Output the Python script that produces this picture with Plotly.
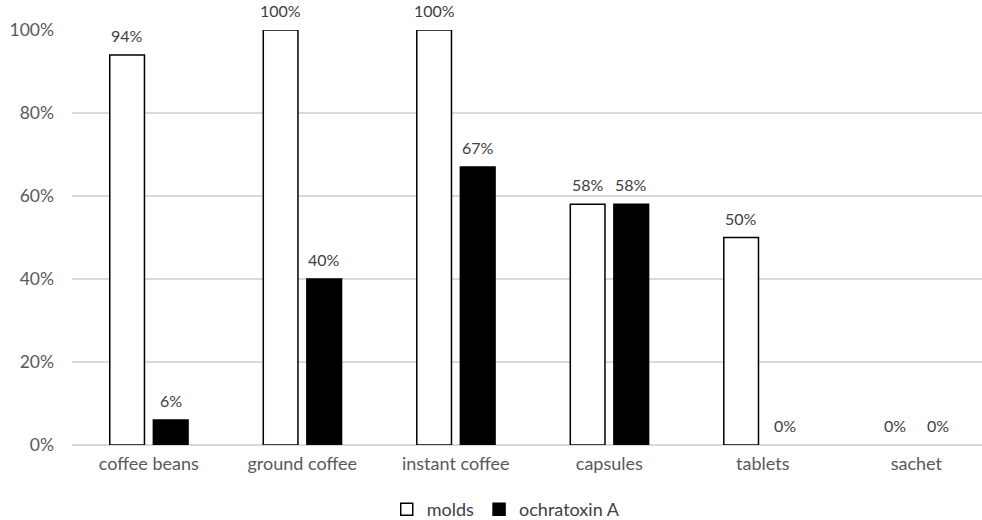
import plotly.graph_objects as go

# Share of samples positive for molds and for ochratoxin A, by coffee product
categories = ["coffee beans", "ground coffee", "instant coffee", "capsules", "tablets", "sachet"]
molds = [0.94, 1.00, 1.00, 0.58, 0.50, 0.00]
ochratoxin_a = [0.06, 0.40, 0.67, 0.58, 0.00, 0.00]
molds_labels = ["94%", "100%", "100%", "58%", "50%", "0%"]
ochratoxin_labels = ["6%", "40%", "67%", "58%", "0%", "0%"]
y_ticks = [0, 0.2, 0.4, 0.6, 0.8, 1.0]
y_tick_text = ["0%", "20%", "40%", "60%", "80%", "100%"]

FONT = "Lato, 'Open Sans', sans-serif"
BAR_W = 0.226
OFF_MOLDS = -0.254
OFF_OCHRA = 0.030


def outline_widths(values, w=1.5):
    # no outline on empty bars, so nothing is drawn along the baseline
    return [w if v > 0 else 0 for v in values]


fig = go.Figure()
fig.add_trace(go.Bar(
    name="molds", x=categories, y=molds,
    width=BAR_W, offset=OFF_MOLDS,
    marker=dict(color="white", line=dict(color="black", width=outline_widths(molds))),
))
fig.add_trace(go.Bar(
    name="ochratoxin A", x=categories, y=ochratoxin_a,
    width=BAR_W, offset=OFF_OCHRA,
    marker=dict(color="black", line=dict(color="black", width=outline_widths(ochratoxin_a))),
))

# value labels above each bar
annotations = []
for offset, values, labels in ((OFF_MOLDS, molds, molds_labels),
                               (OFF_OCHRA, ochratoxin_a, ochratoxin_labels)):
    for i, (v, t) in enumerate(zip(values, labels)):
        annotations.append(dict(x=i + offset + BAR_W / 2, y=v, xref="x", yref="y", text=t,
                                showarrow=False, yanchor="bottom", yshift=8,
                                font=dict(family=FONT, size=16, color="#404040")))

fig.update_layout(
    width=982, height=520,
    margin=dict(l=72, r=0, t=30, b=75),
    plot_bgcolor="white", paper_bgcolor="white",
    barmode="overlay",
    showlegend=True,
    legend=dict(orientation="h", xref="container", yref="container",
                x=0.515, y=0.02, xanchor="center", yanchor="middle",
                font=dict(family=FONT, size=18, color="#404040"),
                traceorder="normal"),
    annotations=annotations,
    xaxis=dict(type="category", range=[-0.5, 5.428], showgrid=False,
               showline=False, zeroline=False, ticks="",
               ticklabelstandoff=6,
               tickfont=dict(family=FONT, size=18, color="#595959")),
    yaxis=dict(range=[0, 1], tickvals=y_ticks, ticktext=y_tick_text,
               showgrid=True, gridcolor="#d9d9d9", gridwidth=1.5,
               zeroline=True, zerolinecolor="#d9d9d9", zerolinewidth=1.5,
               showline=False, ticks="", ticklabelstandoff=17,
               tickfont=dict(family=FONT, size=17.5, color="#595959")),
)

fig.write_html("out.html")
